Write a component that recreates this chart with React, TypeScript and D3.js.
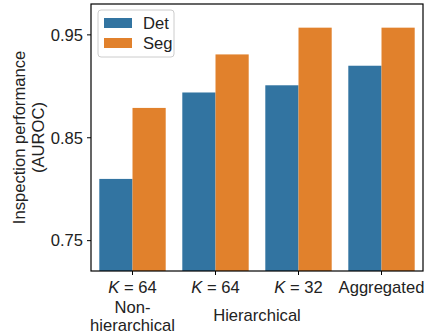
import React from 'react';
import * as d3 from 'd3';

const categories = ['nh64', 'h64', 'h32', 'agg'];
const kValues = ['64', '64', '32', ''];
const series = ['Det', 'Seg'];
const detValues = [0.81, 0.894, 0.901, 0.92];
const segValues = [0.879, 0.931, 0.957, 0.957];
const yTicks = [0.75, 0.85, 0.95];
const colors = ['#3274a1', '#e1812c'];

const W = 427;
const H = 333;
const margin = { top: 4, right: 4, bottom: 62, left: 91 };
const font = 'Liberation Sans, Arial, sans-serif';
const fs = 16.6;

const App = () => {
    const innerW = W - margin.left - margin.right;
    const innerH = H - margin.top - margin.bottom;

    const x = d3.scaleBand().domain(categories).range([0, innerW]).paddingInner(0.2).paddingOuter(0.1);
    const xSub = d3.scaleBand().domain(series).range([0, x.bandwidth()]);
    const y = d3.scaleLinear().domain([0.7205, 0.98]).range([innerH, 0]);

    const values = [detValues, segValues];
    const center = (c: string) => (x(c) || 0) + x.bandwidth() / 2;

    return (
        <svg width={W} height={H} style={{ position: 'absolute', left: 0, top: 0 }} fontFamily={font}>
            <g transform={`translate(${margin.left},${margin.top})`}>
                {series.map((s, si) =>
                    categories.map((c, ci) => (
                        <rect
                            key={s + c}
                            x={(x(c) || 0) + (xSub(s) || 0)}
                            y={y(values[si][ci])}
                            width={xSub.bandwidth()}
                            height={innerH - y(values[si][ci])}
                            fill={colors[si]}
                        />
                    ))
                )}
                <rect x={0} y={0} width={innerW} height={innerH} fill="none" stroke="#000" strokeWidth={1.2} />
                {yTicks.map(t => (
                    <g key={t} transform={`translate(0,${y(t)})`}>
                        <line x1={-4} x2={0} stroke="#000" strokeWidth={1} />
                        <text x={-8} dy="0.35em" textAnchor="end" fontSize={fs} fill="#222">{t.toFixed(2)}</text>
                    </g>
                ))}
                {categories.map((c, i) => (
                    <g key={c} transform={`translate(${center(c)},${innerH})`}>
                        <line y1={0} y2={4} stroke="#000" strokeWidth={1} />
                        <text y={22} textAnchor="middle" fontSize={fs} fill="#222">
                            {kValues[i] ? (
                                <>
                                    <tspan fontStyle="italic">K</tspan>
                                    <tspan>{` = ${kValues[i]}`}</tspan>
                                </>
                            ) : 'Aggregated'}
                        </text>
                    </g>
                ))}
                <text x={center('nh64')} y={innerH + 42} textAnchor="middle" fontSize={fs} fill="#222">Non-</text>
                <text x={center('nh64')} y={innerH + 60} textAnchor="middle" fontSize={fs} fill="#222">hierarchical</text>
                <text x={(center('h64') + center('h32')) / 2} y={innerH + 50} textAnchor="middle" fontSize={fs} fill="#222">Hierarchical</text>
                <g transform={`translate(7,6)`}>
                    <rect x={0} y={0} width={76} height={47} rx={3} fill="#fff" fillOpacity={0.8} stroke="#ccc" />
                    {series.map((s, i) => (
                        <g key={s} transform={`translate(6,${8 + i * 20})`}>
                            <rect width={28} height={10} fill={colors[i]} />
                            <text x={39} y={5} dy="0.35em" fontSize={fs} fill="#222">{s}</text>
                        </g>
                    ))}
                </g>
            </g>
            <text transform={`translate(25,${margin.top + innerH / 2}) rotate(-90)`} textAnchor="middle" fontSize={fs} fill="#222">Inspection performance</text>
            <text transform={`translate(44,${margin.top + innerH / 2}) rotate(-90)`} textAnchor="middle" fontSize={fs} fill="#222">(AUROC)</text>
        </svg>
    );
};

export default App;
